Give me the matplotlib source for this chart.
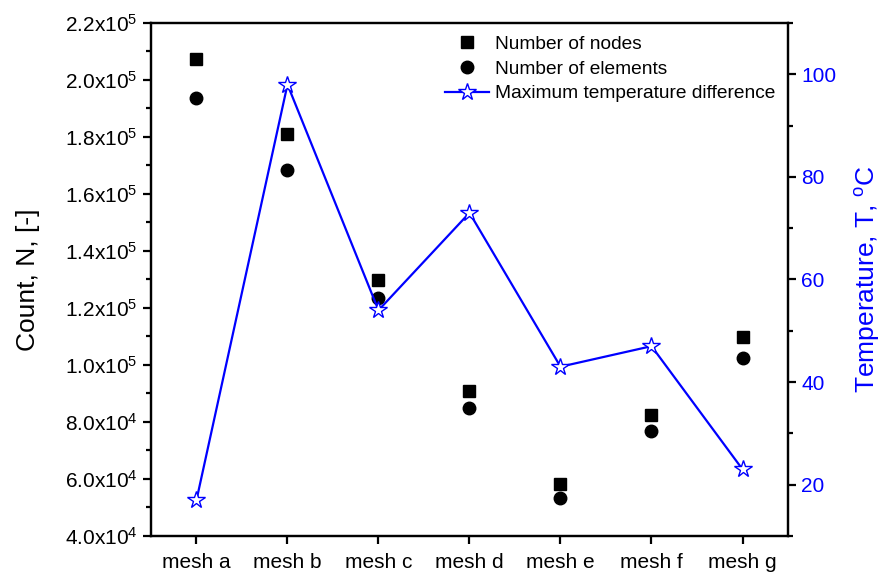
import matplotlib
matplotlib.use("Agg")
import matplotlib.pyplot as plt
from matplotlib.ticker import FixedLocator, FuncFormatter, MultipleLocator
import math

plt.rcParams['font.family'] = ['Liberation Sans', 'DejaVu Sans']
plt.rcParams['mathtext.default'] = 'regular'

categories = ["mesh a", "mesh b", "mesh c", "mesh d", "mesh e", "mesh f", "mesh g"]
nodes = [207500, 181000, 129700, 91000, 58200, 82300, 109800]
elements = [193500, 168300, 123600, 85000, 53300, 76800, 102300]
temp_diff = [17, 98, 54, 73, 43, 47, 23]

fig = plt.figure(figsize=(8.85, 5.74), dpi=100)
ax = fig.add_axes([0.1706, 0.0662, 0.7198, 0.8938])
ax2 = ax.twinx()

x = list(range(len(categories)))
ax.plot(x, nodes, linestyle='none', marker='s', color='black', markersize=8, label='Number of nodes')
ax.plot(x, elements, linestyle='none', marker='o', color='black', markersize=9, label='Number of elements')
ax2.plot(x, temp_diff, color='#0000ff', linewidth=1.6, marker='*', markersize=13,
         markerfacecolor='white', markeredgecolor='#0000ff', markeredgewidth=1.0,
         label='Maximum temperature difference')

ax.set_xlim(-0.5, 6.5)
ax.set_ylim(40000, 220000)
ax2.set_ylim(10, 110)

ax.set_xticks(x)
ax.set_xticklabels(categories)

def sci(v, pos):
    if v == 0:
        return "0"
    e = int(math.floor(math.log10(abs(v)) + 1e-9))
    m = v / 10 ** e
    return f"{m:.1f}x10$^{{{e}}}$"

ax.yaxis.set_major_locator(MultipleLocator(20000))
ax.yaxis.set_minor_locator(MultipleLocator(10000))
ax.yaxis.set_major_formatter(FuncFormatter(sci))
ax2.yaxis.set_major_locator(FixedLocator([20, 40, 60, 80, 100]))
ax2.yaxis.set_minor_locator(MultipleLocator(10))

for a in (ax, ax2):
    for s in a.spines.values():
        s.set_linewidth(1.6)
        s.set_color('black')

ax.tick_params(axis='both', which='major', direction='out', length=6, width=1.6, labelsize=15, colors='black')
ax.tick_params(axis='y', which='minor', direction='out', length=3.5, width=1.6)
ax.tick_params(axis='x', which='major', pad=6)
ax2.tick_params(axis='y', which='major', direction='out', length=6, width=1.6, labelsize=15,
                colors='black', labelcolor='#0000ff')
ax2.tick_params(axis='y', which='minor', direction='out', length=3.5, width=1.6)

ax.set_ylabel("Count, N, [-]", fontsize=19, labelpad=18)
ax2.set_ylabel("Temperature, T, $^{o}$C", fontsize=19, color='#0000ff', labelpad=12)

h1, l1 = ax.get_legend_handles_labels()
h2, l2 = ax2.get_legend_handles_labels()
ax2.legend(h1 + h2, l1 + l2, loc='upper right', frameon=False, fontsize=13.8,
           handlelength=2.3, handletextpad=0.3, labelspacing=0.38, borderaxespad=0.25,
           bbox_to_anchor=(1.0, 1.0))

fig.savefig("out.png", dpi=100)
